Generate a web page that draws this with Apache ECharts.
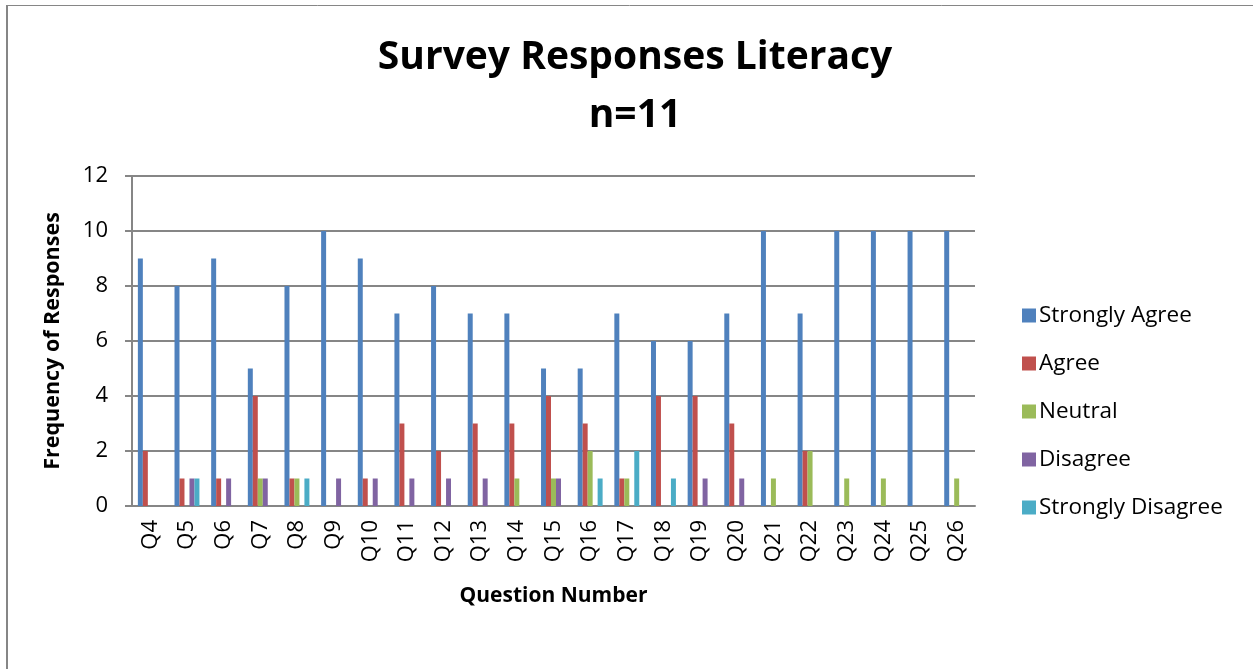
<!DOCTYPE html>
<html>
<head>
<meta charset="utf-8">
<script src="https://cdn.jsdelivr.net/npm/echarts@6/dist/echarts.min.js"></script>
<style>
html,body{margin:0;padding:0;background:#fff;}
#chart{width:1253px;height:669px;}
</style>
</head>
<body>
<div id="chart"></div>
<script>
const categories = ['Q4','Q5','Q6','Q7','Q8','Q9','Q10','Q11','Q12','Q13','Q14','Q15','Q16','Q17','Q18','Q19','Q20','Q21','Q22','Q23','Q24','Q25','Q26'];
const stronglyAgree    = [9,8,9,5,8,10,9,7,8,7,7,5,5,7,6,6,7,10,7,10,10,10,10];
const agree            = [2,1,1,4,1,0,1,3,2,3,3,4,3,1,4,4,3,0,2,0,0,0,0];
const neutral          = [0,0,0,1,1,0,0,0,0,0,1,1,2,1,0,0,0,1,2,1,1,0,1];
const disagree         = [0,1,1,1,0,1,1,1,1,1,0,1,0,0,0,1,1,0,0,0,0,0,0];
const stronglyDisagree = [0,1,0,0,1,0,0,0,0,0,0,0,1,2,1,0,0,0,0,0,0,0,0];
const seriesNames = ['Strongly Agree','Agree','Neutral','Disagree','Strongly Disagree'];
const seriesColors = ['#4F81BD','#C0504D','#9BBB59','#8064A2','#4BACC6'];
const yTicks = [0,2,4,6,8,10,12];

const FONT = 'Open Sans';
const allData = [stronglyAgree, agree, neutral, disagree, stronglyDisagree];

const chart = echarts.init(document.getElementById('chart'), null, {renderer:'canvas'});
chart.setOption({
  animation:false,
  backgroundColor:'#fff',
  textStyle:{fontFamily:FONT},
  title:{
    text:'Survey Responses Literacy\nn=11',
    left:630, top:24, textAlign:'center',
    textStyle:{fontFamily:FONT, fontWeight:'bold', fontSize:39, color:'#000', lineHeight:58}
  },
  graphic:[
    {type:'line', shape:{x1:7,y1:5,x2:7,y2:669}, style:{stroke:'#868686', lineWidth:2}},
    {type:'line', shape:{x1:6,y1:5.5,x2:1253,y2:5.5}, style:{stroke:'#868686', lineWidth:1}}
  ],
  legend:{
    orient:'vertical', left:1017, top:299,
    itemWidth:14, itemHeight:14, itemGap:25,
    icon:'rect',
    textStyle:{fontFamily:FONT, fontSize:22.5, color:'#000', lineHeight:20, padding:[0,0,0,-2]},
    data:seriesNames
  },
  grid:{left:132, right:1253-975, top:176, bottom:669-506, containLabel:false},
  xAxis:{
    type:'category', data:categories,
    name:'Question Number', nameLocation:'middle', nameGap:80,
    nameTextStyle:{fontFamily:FONT, fontWeight:'bold', fontSize:21, color:'#000'},
    axisLine:{lineStyle:{color:'#868686', width:2}},
    axisTick:{show:false},
    axisLabel:{rotate:90, fontFamily:FONT, fontSize:22, color:'#000', margin:14, interval:0}
  },
  yAxis:{
    type:'value', min:0, max:12, interval:2,
    name:'Frequency of Responses', nameLocation:'middle', nameGap:68,
    nameTextStyle:{fontFamily:FONT, fontWeight:'bold', fontSize:21.5, color:'#000'},
    axisLine:{show:true, lineStyle:{color:'#868686', width:2}},
    axisTick:{show:true, length:7, lineStyle:{color:'#868686', width:2}},
    splitLine:{lineStyle:{color:'#868686', width:2}},
    axisLabel:{fontFamily:FONT, fontSize:22, color:'#000', margin:24,
      formatter:function(v){ return yTicks.indexOf(v) >= 0 ? String(v) : ''; }}
  },
  series: seriesNames.map(function(name, i){
    return {
      name:name, type:'bar', data:allData[i],
      barGap:'0%', barCategoryGap:'32%',
      itemStyle:{color:seriesColors[i]}
    };
  })
});
</script>
</body>
</html>
